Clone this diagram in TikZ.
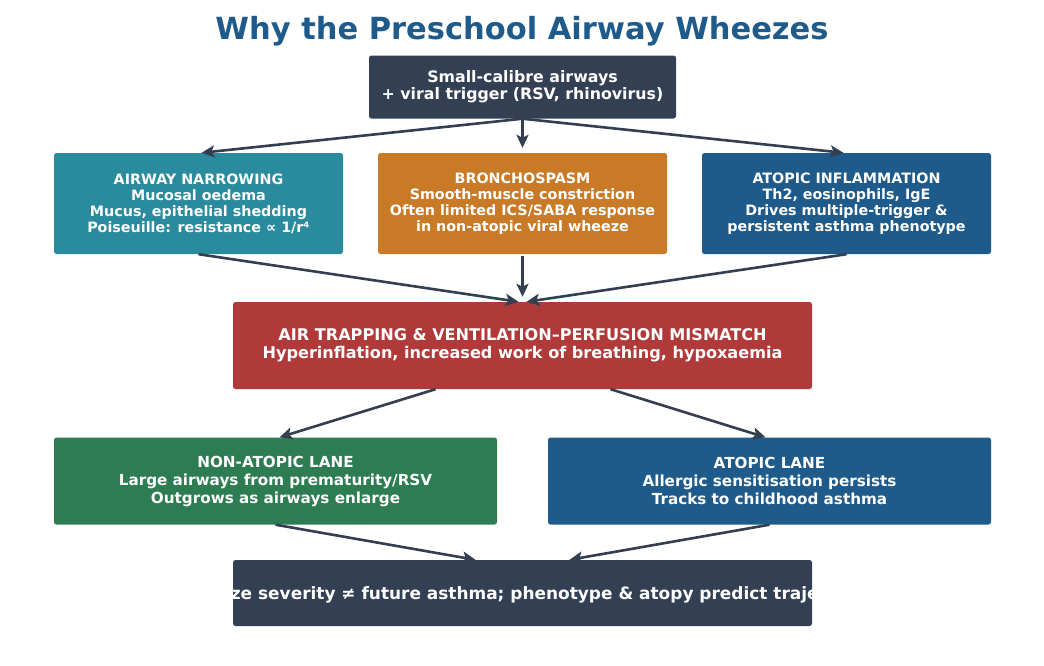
\documentclass[tikz,border=0pt]{standalone}
\usepackage{fontspec}
\setmainfont{DejaVu Sans}
\usetikzlibrary{arrows.meta}
\definecolor{dark}{RGB}{51,64,84}
\definecolor{tealc}{RGB}{42,138,158}
\definecolor{orangec}{RGB}{200,122,38}
\definecolor{bluec}{RGB}{30,90,138}
\definecolor{redc}{RGB}{176,58,58}
\definecolor{greenc}{RGB}{46,125,82}
\definecolor{arrowc}{RGB}{51,63,80}
\tikzset{
  box/.style={draw=none, rounded corners=2.5pt, inner sep=0pt, align=center, text=white},
  rowtwo/.style={box, minimum width=289pt, minimum height=101pt, font=\bfseries\fontsize{14.3}{16}\selectfont},
  lane/.style={box, minimum width=443pt, minimum height=87pt, font=\bfseries\fontsize{15.2}{18}\selectfont},
  conn/.style={draw=arrowc, line width=2.6pt, -{Stealth[length=13pt,width=12pt,inset=3pt]}}
}
\begin{document}
\begin{tikzpicture}[x=1pt,y=-1pt]
\useasboundingbox[fill=white] (0,0) rectangle (1044,665);
\node[font=\bfseries\fontsize{30.5}{34}\selectfont, text=bluec, inner sep=0pt] (title) at (522,31) {Why the Preschool Airway Wheezes};
\node[box, fill=dark, minimum width=307pt, minimum height=63pt, font=\bfseries\fontsize{15.8}{17}\selectfont] (top) at (522.5,87) {Small-calibre airways\\+ viral trigger (RSV, rhinovirus)};
\node[rowtwo, fill=tealc] (narrow) at (198.5,203.5) {AIRWAY NARROWING\\Mucosal oedema\\Mucus, epithelial shedding\\Poiseuille: resistance ∝ 1/r⁴};
\node[rowtwo, fill=orangec] (spasm) at (522.5,203.5) {BRONCHOSPASM\\Smooth-muscle constriction\\Often limited ICS/SABA response\\in non-atopic viral wheeze};
\node[rowtwo, fill=bluec] (atopic) at (846.5,203.5) {ATOPIC INFLAMMATION\\Th2, eosinophils, IgE\\Drives multiple-trigger \&\\persistent asthma phenotype};
\node[box, fill=redc, minimum width=579pt, minimum height=87pt, font=\bfseries\fontsize{16.1}{18}\selectfont] (trap) at (522.5,345.5) {AIR TRAPPING \& VENTILATION–PERFUSION MISMATCH\\Hyperinflation, increased work of breathing, hypoxaemia};
\node[lane, fill=greenc] (nonlane) at (275.5,481) {NON-ATOPIC LANE\\Large airways from prematurity/RSV\\Outgrows as airways enlarge};
\node[lane, fill=bluec] (atlane) at (769.5,481) {ATOPIC LANE\\Allergic sensitisation persists\\Tracks to childhood asthma};
\node[box, fill=dark, minimum width=579pt, minimum height=66pt] (bottom) at (522.5,593) {};
\begin{scope}
\clip (bottom.south west) rectangle (bottom.north east);
\node[text=white, inner sep=0pt, font=\bfseries\fontsize{16.95}{19}\selectfont] (bottomtext) at (522.5,595) {Wheeze severity ≠ future asthma; phenotype \& atopy predict trajectory};
\end{scope}
\draw[conn] (top.south) -- ([xshift=3pt]narrow.north);
\draw[conn] (top.south) -- ([yshift=5pt]spasm.north);
\draw[conn] (top.south) -- ([xshift=-3pt]atopic.north);
\draw[conn] (narrow.south) -- ([xshift=-4pt]trap.north);
\draw[conn] ([yshift=-2pt]spasm.south) -- ([yshift=5pt]trap.north);
\draw[conn] (atopic.south) -- ([xshift=4pt]trap.north);
\draw[conn] ([xshift=-87pt]trap.south) -- ([xshift=4pt]nonlane.north);
\draw[conn] ([xshift=88pt]trap.south) -- ([xshift=-4pt]atlane.north);
\draw[conn] (nonlane.south) -- ([xshift=-47pt]bottom.north);
\draw[conn] (atlane.south) -- ([xshift=47pt]bottom.north);
\end{tikzpicture}
\end{document}
